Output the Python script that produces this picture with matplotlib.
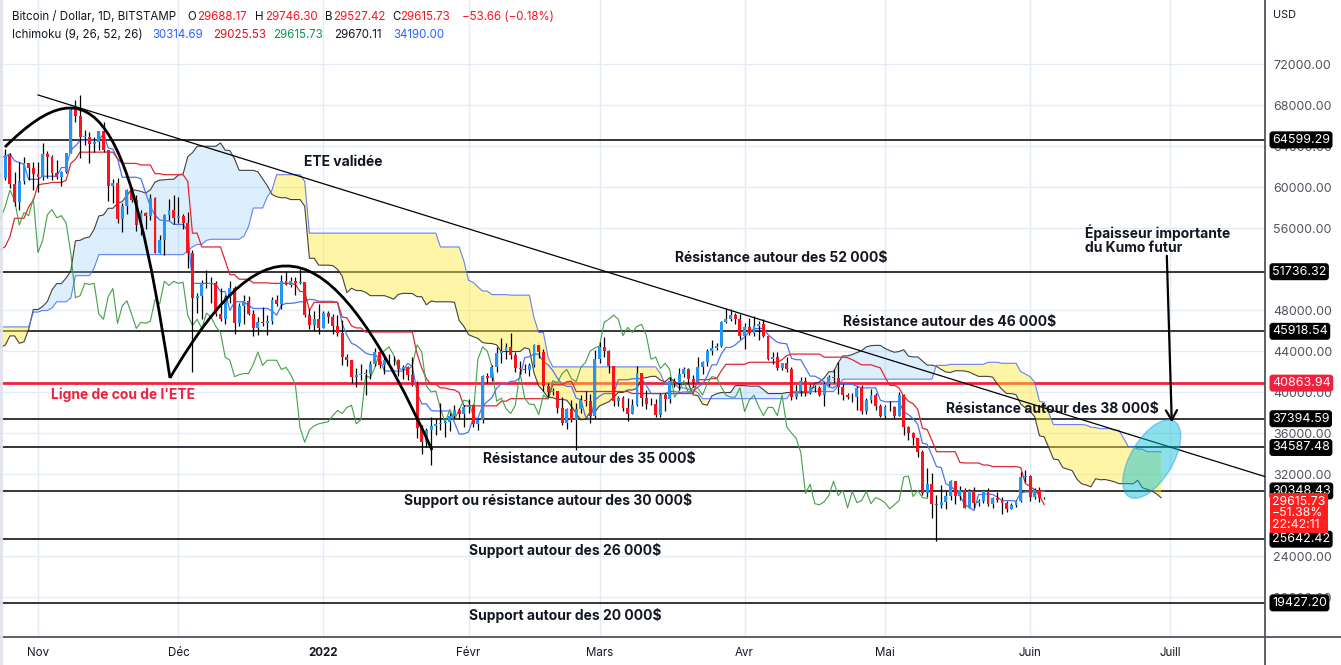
import matplotlib
matplotlib.use("Agg")
import matplotlib.pyplot as plt
import matplotlib.dates as mdates
from matplotlib.path import Path
from matplotlib.patches import PathPatch, Ellipse
from matplotlib.lines import Line2D
from matplotlib.transforms import blended_transform_factory, ScaledTranslation
import pandas as pd

plt.rcParams["font.family"] = ["Inter", "DejaVu Sans"]

# BTC/USD daily candles (thousands of $), 2021-08-05 -> 2022-06-04
first_day = "2021-08-05"
first_open_k = 39.7
close_k = [
    # aug
    40.9, 42.8, 44.6, 43.8, 46.3, 45.6, 45.6, 44.4, 47.8, 47.1, 47.0, 46.0, 44.7, 44.8,
    46.7, 49.3, 48.9, 49.3, 49.5, 47.7, 48.9, 47.0, 49.0, 48.9, 48.8, 47.0, 47.2,
    # sep
    48.8, 49.3, 50.0, 49.9, 51.8, 52.7, 46.9, 46.1, 46.4, 44.8, 45.2, 46.0, 44.9, 47.1, 48.1,
    47.7, 47.3, 48.3, 47.3, 43.0, 40.7, 43.6, 44.9, 42.8, 42.7, 43.2, 42.2, 41.0, 41.5, 43.8,
    # oct
    48.1, 47.7, 48.2, 49.2, 51.5, 55.3, 53.8, 53.9, 55.0, 54.7, 57.5, 56.0, 57.4, 57.3, 61.7,
    60.9, 61.5, 62.0, 64.3, 66.0, 62.2, 60.7, 61.3, 60.9, 63.1, 60.3, 58.5, 60.6, 62.3, 61.9, 61.3,
    # nov
    61.0, 63.2, 62.9, 61.4, 61.0, 61.5, 63.3, 67.5, 66.9, 64.9, 64.9, 64.2, 64.4, 65.5, 63.6,
    60.1, 60.4, 56.9, 58.1, 59.7, 58.7, 56.3, 57.5, 57.2, 58.9, 53.6, 54.8, 57.3, 57.8, 57.0,
    # dec
    57.2, 56.5, 53.6, 49.2, 49.4, 50.6, 50.5, 50.6, 47.6, 47.1, 49.3, 50.1, 46.7, 48.4, 48.9,
    47.6, 46.2, 46.8, 46.7, 46.9, 49.0, 48.6, 50.8, 50.4, 50.8, 50.6, 50.7, 47.5, 46.5, 47.1, 46.2,
    # jan
    47.7, 47.3, 46.4, 45.8, 43.4, 43.1, 41.5, 41.7, 41.8, 41.8, 42.7, 43.9, 42.6, 43.1, 43.1,
    43.1, 42.2, 42.4, 41.7, 40.7, 36.5, 35.1, 36.3, 36.7, 36.9, 37.0, 37.1, 37.7, 38.2, 37.9, 38.5,
    # feb
    38.7, 36.9, 37.3, 41.6, 41.4, 42.4, 43.8, 44.0, 44.4, 43.6, 42.3, 42.2, 42.1, 42.6, 44.6,
    43.9, 40.6, 40.0, 40.1, 38.4, 37.0, 38.3, 37.3, 38.3, 39.2, 39.1, 37.7, 43.2,
    # mar
    44.4, 44.0, 42.5, 39.1, 39.4, 38.4, 37.9, 38.7, 41.9, 39.4, 38.8, 38.8, 37.8, 39.7, 39.3,
    41.1, 40.9, 41.8, 42.2, 41.3, 41.0, 42.4, 42.9, 44.0, 44.3, 44.5, 46.8, 47.1, 47.5, 47.1, 45.5,
    # apr
    46.3, 45.8, 46.4, 46.6, 45.5, 43.2, 43.4, 42.3, 42.8, 42.2, 39.5, 40.1, 41.1, 39.9, 40.5,
    40.4, 39.7, 40.8, 41.5, 41.4, 40.5, 39.7, 39.5, 39.5, 40.4, 38.1, 39.2, 39.7, 38.6, 37.7,
    # may
    38.5, 38.5, 37.7, 39.7, 36.6, 36.0, 35.5, 34.1, 30.1, 31.0, 29.1, 29.0, 29.3, 29.9, 31.3,
    29.9, 30.4, 28.7, 30.3, 29.2, 29.4, 30.3, 29.1, 29.7, 29.5, 29.2, 28.6, 29.0, 29.4, 31.7, 31.8,
    # jun
    29.8, 30.4, 29.69, 29.62,
]
high_k = [
    41.4, 43.0, 44.7, 46.0, 46.4, 46.6, 46.7, 46.2, 47.9, 48.1, 47.4, 48.0, 47.1, 46.0,
    47.0, 49.3, 49.8, 49.5, 50.5, 49.8, 49.3, 49.0, 49.2, 49.3, 49.6, 48.9, 48.2,
    48.9, 50.4, 51.0, 50.5, 51.9, 52.8, 52.9, 47.4, 47.4, 47.0, 45.9, 46.4, 46.9, 47.2, 48.4,
    48.4, 48.1, 48.8, 48.3, 47.3, 43.6, 44.0, 44.9, 45.0, 42.9, 43.9, 44.3, 42.8, 42.6, 44.1,
    48.4, 48.3, 49.2, 49.5, 51.9, 55.8, 55.3, 56.1, 55.5, 56.6, 57.8, 57.6, 57.6, 58.5, 62.9,
    62.3, 61.7, 62.6, 64.4, 67.0, 66.6, 63.7, 61.7, 61.5, 63.7, 63.3, 61.5, 62.4, 62.9, 62.3, 62.4,
    62.4, 64.3, 63.5, 63.1, 62.6, 61.6, 63.3, 67.7, 68.5, 69.0, 65.6, 65.4, 64.9, 65.5, 66.3,
    63.6, 60.8, 60.9, 58.4, 59.8, 60.0, 59.2, 57.8, 57.6, 59.3, 59.0, 55.3, 57.4, 58.8, 59.2,
    59.0, 57.4, 57.6, 53.9, 49.7, 50.9, 51.9, 51.2, 50.8, 50.1, 49.5, 50.8, 50.3, 48.7, 49.5,
    49.4, 48.0, 47.3, 48.3, 47.5, 49.3, 49.5, 51.4, 51.8, 51.2, 51.2, 52.0, 50.7, 48.1, 47.9, 48.6,
    47.9, 47.9, 47.6, 47.5, 47.0, 43.7, 43.1, 42.3, 42.7, 42.2, 43.0, 44.3, 44.4, 43.4, 43.7,
    43.5, 43.2, 42.6, 42.5, 43.4, 41.1, 36.8, 36.5, 37.6, 37.5, 38.9, 37.2, 38.0, 38.7, 38.4, 38.7,
    39.3, 38.8, 37.4, 41.7, 41.9, 42.6, 44.4, 45.3, 44.8, 45.8, 43.9, 43.0, 42.7, 42.8, 44.7,
    44.5, 44.2, 40.9, 40.4, 40.1, 39.5, 38.4, 39.2, 38.9, 39.7, 40.1, 39.8, 44.1,
    44.9, 45.4, 44.1, 42.5, 39.6, 39.6, 39.4, 39.3, 42.5, 41.9, 40.2, 39.4, 39.3, 39.9, 39.9,
    41.5, 41.4, 42.3, 42.4, 42.3, 41.7, 43.4, 43.0, 44.2, 45.1, 44.8, 46.9, 48.2, 48.1, 47.7, 47.6,
    46.7, 47.2, 47.4, 46.9, 47.1, 45.5, 43.9, 43.9, 42.8, 43.4, 42.4, 40.7, 41.5, 41.5, 40.8,
    40.7, 40.6, 41.0, 41.7, 42.2, 42.9, 40.8, 39.9, 39.9, 40.6, 40.7, 39.4, 40.3, 39.9, 38.8,
    38.7, 39.1, 38.6, 40.0, 39.8, 36.7, 36.1, 35.5, 34.3, 32.6, 32.1, 30.0, 30.9, 30.3, 31.4,
    31.3, 30.8, 30.6, 30.5, 30.7, 29.6, 30.4, 30.6, 29.8, 30.2, 29.8, 29.4, 29.2, 29.5, 32.2, 32.4,
    31.9, 30.6, 30.7, 29.75,
]
low_k = [
    37.3, 39.9, 42.5, 43.3, 42.8, 44.8, 45.4, 43.8, 44.2, 46.0, 45.6, 45.7, 44.4, 44.2,
    43.9, 46.6, 48.3, 48.1, 49.0, 47.6, 47.2, 46.4, 46.4, 48.4, 48.2, 46.9, 46.7,
    46.6, 48.7, 48.4, 49.5, 49.5, 50.9, 43.0, 44.4, 45.6, 44.2, 44.8, 44.8, 43.4, 44.7, 46.7,
    47.0, 46.8, 47.1, 46.9, 42.6, 39.8, 40.6, 43.2, 40.9, 41.7, 40.8, 42.1, 40.9, 40.8, 41.4,
    43.3, 47.4, 47.1, 46.9, 49.1, 50.4, 53.4, 53.6, 53.7, 54.1, 54.4, 53.9, 54.3, 56.9, 56.9,
    60.2, 58.9, 60.4, 61.6, 63.5, 62.0, 60.0, 59.7, 59.5, 60.7, 59.9, 58.1, 57.8, 60.3, 60.7, 59.7,
    59.5, 60.7, 60.9, 60.7, 60.8, 60.1, 61.4, 63.3, 66.3, 62.8, 64.1, 62.3, 63.4, 63.6, 63.4,
    58.6, 58.4, 56.5, 55.6, 57.4, 58.5, 55.7, 55.3, 55.9, 56.8, 53.6, 53.6, 53.4, 56.8, 56.4,
    56.5, 55.9, 52.1, 42.0, 47.7, 47.1, 50.1, 48.7, 47.4, 46.9, 46.6, 48.7, 45.7, 46.4, 46.6,
    47.5, 45.5, 45.6, 46.4, 45.6, 46.6, 48.4, 48.1, 50.4, 50.2, 49.5, 50.5, 47.3, 46.1, 46.0, 45.7,
    46.2, 46.7, 45.7, 45.5, 42.6, 42.5, 40.9, 40.5, 41.2, 39.7, 41.3, 42.5, 42.3, 41.8, 42.6,
    42.6, 41.6, 41.3, 41.2, 40.6, 35.5, 34.0, 34.6, 32.9, 35.8, 36.3, 35.6, 36.2, 37.4, 37.4, 36.6,
    38.0, 36.6, 36.3, 37.0, 40.9, 41.1, 42.0, 42.8, 43.2, 43.2, 42.0, 41.8, 41.9, 41.6, 42.4,
    43.3, 40.1, 39.5, 39.7, 38.0, 36.8, 36.4, 37.1, 34.3, 38.0, 38.6, 37.0, 37.5,
    42.8, 43.4, 41.9, 38.6, 38.6, 38.1, 37.2, 37.9, 38.6, 38.6, 38.3, 38.7, 37.6, 37.6, 38.1,
    38.9, 40.5, 40.2, 41.5, 40.9, 40.5, 41.0, 41.8, 42.5, 43.6, 44.1, 44.4, 46.7, 46.9, 46.6, 45.2,
    44.2, 45.6, 45.5, 45.1, 45.4, 43.1, 42.7, 42.1, 42.1, 42.0, 39.2, 39.3, 39.6, 39.6, 39.8,
    40.0, 39.6, 38.6, 40.6, 40.9, 39.8, 39.2, 39.3, 39.0, 38.2, 37.9, 37.9, 38.9, 38.2, 37.6,
    37.4, 38.1, 37.5, 37.7, 35.8, 35.3, 34.8, 33.7, 30.0, 29.8, 27.7, 25.45, 28.7, 28.6, 29.5,
    29.1, 29.5, 28.7, 28.7, 28.7, 28.9, 29.2, 28.9, 28.7, 29.3, 28.1, 28.3, 28.6, 28.8, 29.3, 31.2,
    29.4, 29.6, 29.3, 29.53,
]

# horizontal levels drawn on the chart
levels = [64599.29, 51736.32, 45918.54, 37394.59, 34587.48, 30348.43, 25642.42, 19427.20]
neckline = 40863.94

month_ticks = ["2021-11-01", "2021-12-01", "2022-01-01", "2022-02-01", "2022-03-01",
               "2022-04-01", "2022-05-01", "2022-06-01", "2022-07-01"]
month_labels = ["Nov", "Déc", "2022", "Févr", "Mars", "Avr", "Mai", "Juin", "Juill"]
price_ticks = [20000, 24000, 32000, 36000, 40000, 44000, 48000, 56000, 60000, 64000, 68000, 72000]

# annotations: (days after 2021-11-01, price)
notes = [
    ("ETE validée", 65.2, 62440),
    ("Résistance autour des 52 000$", 158.8, 53070),
    ("Résistance autour des 46 000$", 194.9, 46830),
    ("Résistance autour des 38 000$", 216.7, 38340),
    ("Résistance autour des 35 000$", 117.9, 33460),
    ("Support ou résistance autour des 30 000$", 109.0, 29460),
    ("Support autour des 26 000$", 112.6, 24490),
    ("Support autour des 20 000$", 112.6, 18240),
]
neck_note = ("Ligne de cou de l'ETE", 18.2, 39710)
kumo_note = ("Épaisseur importante\ndu Kumo futur", 223.7, 54830)
arc_head = [(-7.05, 63900), (12.2, 72680), (19.7, 66730), (28.2, 41370)]
arc_right = [(28.2, 41370), (49.6, 57950), (62.8, 55710), (84.2, 34340)]
trend = [(0.0, 68980), (265.0, 31350)]
arrow = [(241.2, 53560), (242.3, 36780)]
ellipse_c = (238.0, 33460)

legend1 = [("Bitcoin / Dollar, 1D, BITSTAMP", 12, "#131722"), ("O", 187, "#131722"),
           ("29688.17", 197, "#F7141E"), ("H", 255, "#131722"), ("29746.30", 265, "#F7141E"),
           ("B", 325, "#131722"), ("29527.42", 333, "#F7141E"), ("C", 392, "#131722"),
           ("29615.73", 400, "#F7141E"), ("\u221253.66 (\u22120.18%)", 462, "#F7141E")]
legend2 = [("Ichimoku (9, 26, 52, 26)", 12, "#131722"), ("30314.69", 152, "#2962FF"),
           ("29025.53", 213, "#E0121B"), ("29615.73", 273, "#089950"),
           ("29670.11", 334, "#131722"), ("34190.00", 393, "#2962FF")]

# ---------------------------------------------------------------
df = pd.DataFrame({"close": close_k, "high": high_k, "low": low_k},
                  index=pd.date_range(first_day, periods=len(close_k), freq="D")) * 1000
df["open"] = df["close"].shift(1).fillna(first_open_k * 1000)
x = mdates.date2num(df.index)
base = mdates.date2num(pd.Timestamp("2021-11-01"))

tenkan = (df["high"].rolling(9).max() + df["low"].rolling(9).min()) / 2
kijun = (df["high"].rolling(26).max() + df["low"].rolling(26).min()) / 2
span_a = (tenkan + kijun) / 2
span_b = (df["high"].rolling(52).max() + df["low"].rolling(52).min()) / 2
shift = 25

W, H = 1341, 665
fig = plt.figure(figsize=(W / 100, H / 100), dpi=100)
ax = fig.add_axes([0, 1 - 637 / H, 1265 / W, 637 / H])
ax.set_xlim(base - 8.12, base + 262.2)
ax.set_ylim(16098, 78244)

# cloud
xs = x + shift
ax.fill_between(xs, span_a, span_b, where=span_a >= span_b, interpolate=True,
                color="#90CAF9", alpha=0.3, lw=0, zorder=3)
ax.fill_between(xs, span_a, span_b, where=span_a < span_b, interpolate=True,
                color="#FFEB3B", alpha=0.45, lw=0, zorder=3)
ax.plot(xs, span_a, color="#222222", lw=0.8, alpha=0.85, zorder=4)
ax.plot(xs, span_b, color="#4A6CF7", lw=0.8, alpha=0.85, zorder=4)
ax.plot(x, tenkan, color="#4C74F5", lw=0.9, zorder=4)
ax.plot(x, kijun, color="#DC2A32", lw=0.9, zorder=4)
ax.plot(x - shift, df["close"], color="#43A047", lw=0.8, zorder=4)

# levels
for lv in levels:
    ax.axhline(lv, color="black", lw=1.1, zorder=2)
ax.axhline(neckline, color="#F0213F", lw=2, zorder=2)

# candles
up = df["close"] >= df["open"]
ax.vlines(x, df["low"], df["high"], color="black", lw=0.9, zorder=5)
ax.bar(x, (df["close"] - df["open"]).abs().clip(lower=60), bottom=df[["open", "close"]].min(axis=1),
       width=0.62, color=["#2196F3" if u else "#F7141E" for u in up], lw=0, zorder=6)

# drawings
ax.plot([base + trend[0][0], base + trend[1][0]], [trend[0][1], trend[1][1]],
        color="black", lw=0.9, zorder=7)
for arc in (arc_head, arc_right):
    verts = [(base + d, p) for d, p in arc]
    ax.add_patch(PathPatch(Path(verts, [Path.MOVETO, Path.CURVE4, Path.CURVE4, Path.CURVE4]),
                           fill=False, ec="black", lw=2, zorder=7))
ell = Ellipse((0, 0), 0.88, 0.42, angle=59, fc="#00BCD4", alpha=0.45, ec="#2196F3", lw=1,
              transform=fig.dpi_scale_trans + ScaledTranslation(base + ellipse_c[0], ellipse_c[1], ax.transData),
              zorder=8)
ax.add_patch(ell)
ax.annotate("", xy=(base + arrow[1][0], arrow[1][1]), xytext=(base + arrow[0][0], arrow[0][1]),
            arrowprops=dict(arrowstyle="->,head_length=0.7,head_width=0.4", lw=1.6, color="black"),
            zorder=9)

for txt, d, p in notes:
    ax.text(base + d, p, txt, ha="center", va="center", fontsize=10, fontweight="bold",
            color="#131722", zorder=10)
ax.text(base + neck_note[1], neck_note[2], neck_note[0], ha="center", va="center", fontsize=10,
        fontweight="bold", color="#F0213F", zorder=10)
ax.text(base + kumo_note[1], kumo_note[2], kumo_note[0], ha="left", va="center", fontsize=10,
        fontweight="bold", color="#131722", linespacing=1.0, zorder=10)

# axes styling
ax.set_xticks([mdates.date2num(pd.Timestamp(d)) for d in month_ticks])
ax.set_xticklabels(month_labels)
for lab in ax.get_xticklabels():
    if lab.get_text() == "2022":
        lab.set_fontweight("bold")
ax.tick_params(axis="x", length=0, pad=7, labelsize=8.3, labelcolor="#131722")
ax.yaxis.tick_right()
ax.set_yticks(price_ticks)
ax.set_yticklabels([f"{v:.2f}" for v in price_ticks])
ax.tick_params(axis="y", length=0, pad=6, labelsize=9, labelcolor="#50535E")
ax.grid(True, color="#E3ECF4", lw=1)
ax.set_axisbelow(True)
for s in ("left", "top"):
    ax.spines[s].set_visible(False)
for s in ("right", "bottom"):
    ax.spines[s].set_color("#50535E")
    ax.spines[s].set_linewidth(1.3)
fig.add_artist(Line2D([1265 / W, 1], [1 - 637 / H] * 2, color="#50535E", lw=1.3))
fig.add_artist(Line2D([1265 / W] * 2, [0, 1 - 637 / H], color="#50535E", lw=1.3))
fig.add_artist(Line2D([1 / W] * 2, [0, 1], color="#E0E3EB", lw=2))

# price labels on the axis
tr = blended_transform_factory(fig.transFigure, ax.transData)
for lv in levels + [neckline]:
    fc = "#F0213F" if lv == neckline else "black"
    ax.text(1272 / W, lv, f"{lv:.2f}", transform=tr, ha="left", va="center", fontsize=9,
            color="white", clip_on=False, zorder=20,
            bbox=dict(boxstyle="round,pad=0.2,rounding_size=0.25", fc=fc, ec="none"))
ax.text(1272 / W, 28170, "29615.73\n\u221251.38%\n22:42:11", transform=tr, ha="left", va="center",
        fontsize=8.8, color="white", clip_on=False, zorder=20, linespacing=0.95,
        bbox=dict(boxstyle="square,pad=0.2", fc="#FF1F1F", ec="none"))
fig.text(1273 / W, 1 - 15 / H, "USD", ha="left", va="center", fontsize=7.8, color="#131722")

for txt, px, col in legend1:
    fig.text(px / W, 1 - 17 / H, txt, ha="left", va="center", fontsize=8.3, color=col)
for txt, px, col in legend2:
    fig.text(px / W, 1 - 35 / H, txt, ha="left", va="center", fontsize=8.3, color=col)

fig.savefig("out.png", dpi=100)
